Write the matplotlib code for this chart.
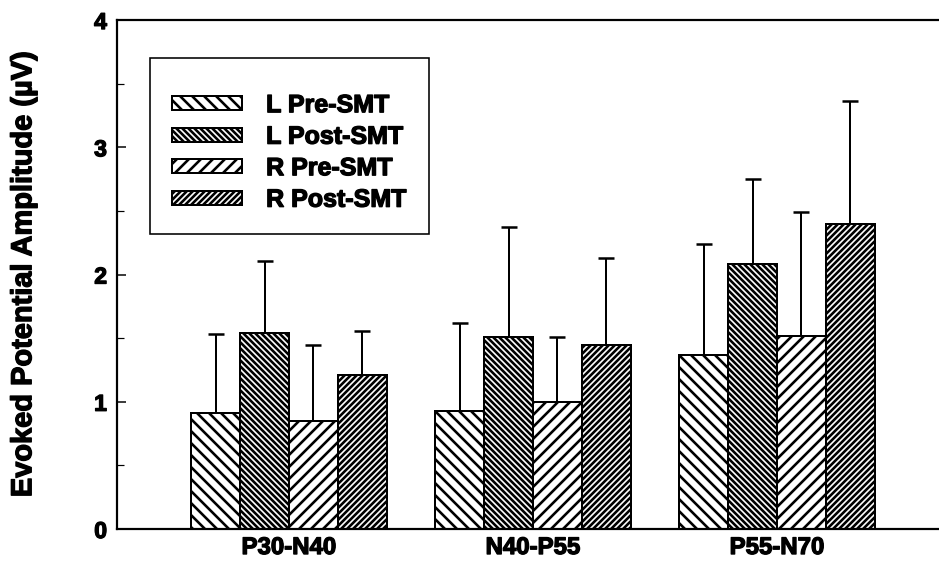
import numpy as np
import matplotlib
matplotlib.use("Agg")
import matplotlib.pyplot as plt
import matplotlib.patheffects as pe

# values (uV), error bars are +1 SD only
components = ["P30-N40", "N40-P55", "P55-N70"]
series = ["L Pre-SMT", "L Post-SMT", "R Pre-SMT", "R Post-SMT"]
l_pre = [0.91, 0.93, 1.37]
l_post = [1.54, 1.51, 2.08]
r_pre = [0.85, 1.00, 1.52]
r_post = [1.21, 1.45, 2.40]
l_pre_sd = [0.62, 0.69, 0.87]
l_post_sd = [0.57, 0.86, 0.67]
r_pre_sd = [0.60, 0.51, 0.97]
r_post_sd = [0.35, 0.68, 0.96]

hatches = ["\\\\", "\\\\\\\\", "//", "////"]

plt.rcParams["font.family"] = ["Liberation Sans", "DejaVu Sans"]
plt.rcParams["font.weight"] = "bold"
plt.rcParams["hatch.linewidth"] = 2.6
plt.rcParams["hatch.color"] = "black"

heavy = [pe.withStroke(linewidth=1.3, foreground="black")]

dpi = 72
fig = plt.figure(figsize=(939 / dpi, 561 / dpi), dpi=dpi)
ax = fig.add_axes([0.1246, 0.057, 0.8754, 0.9073])

x = np.arange(len(components))
w = 0.2
means = [l_pre, l_post, r_pre, r_post]
sds = [l_pre_sd, l_post_sd, r_pre_sd, r_post_sd]
for i, (m, s, h, lab) in enumerate(zip(means, sds, hatches, series)):
    pos = x + (i - 1.5) * w
    ax.bar(pos, m, w, color="white", edgecolor="black", linewidth=2,
           hatch=h, label=lab, zorder=2)
    ax.errorbar(pos, m, yerr=[np.zeros(len(s)), s], fmt="none",
                ecolor="black", elinewidth=2, capsize=8, capthick=2.5,
                zorder=1)

ax.set_xlim(-0.705, 2.664)
ax.set_ylim(0, 4)
ax.set_xticks(x)
ax.set_xticklabels(components, fontsize=24, fontweight="bold")
ax.set_yticks([0, 1, 2, 3, 4])
ax.set_yticklabels(["0", "1", "2", "3", "4"], fontsize=23, fontweight="bold")
ax.set_yticks(np.arange(0.5, 4, 1.0), minor=True)
ax.tick_params(axis="y", which="major", direction="in", length=9, width=1.5, pad=10)
ax.tick_params(axis="y", which="minor", direction="in", length=7, width=1.2)
ax.tick_params(axis="x", length=0, pad=7)
ax.spines["right"].set_visible(False)
for sp in ["left", "bottom", "top"]:
    ax.spines[sp].set_linewidth(2.2)

ax.set_ylabel("Evoked Potential Amplitude (\u00b5V)", fontsize=29,
              fontweight="bold")
ax.yaxis.set_label_coords(-0.097, 0.5)

leg = ax.legend(loc="upper left", bbox_to_anchor=(0.040, 0.925),
                borderaxespad=0, handlelength=2.8,
                handleheight=0.5, handletextpad=0.95, labelspacing=0.3,
                borderpad=0.9, fancybox=False, framealpha=1,
                edgecolor="black", prop={"weight": "bold", "size": 25},
                title=" ", title_fontsize=6)
leg.get_frame().set_linewidth(1.6)

for t in (ax.get_xticklabels() + ax.get_yticklabels() + leg.get_texts()
          + [ax.yaxis.label]):
    t.set_path_effects(heavy)

fig.savefig("out.png", dpi=dpi)
